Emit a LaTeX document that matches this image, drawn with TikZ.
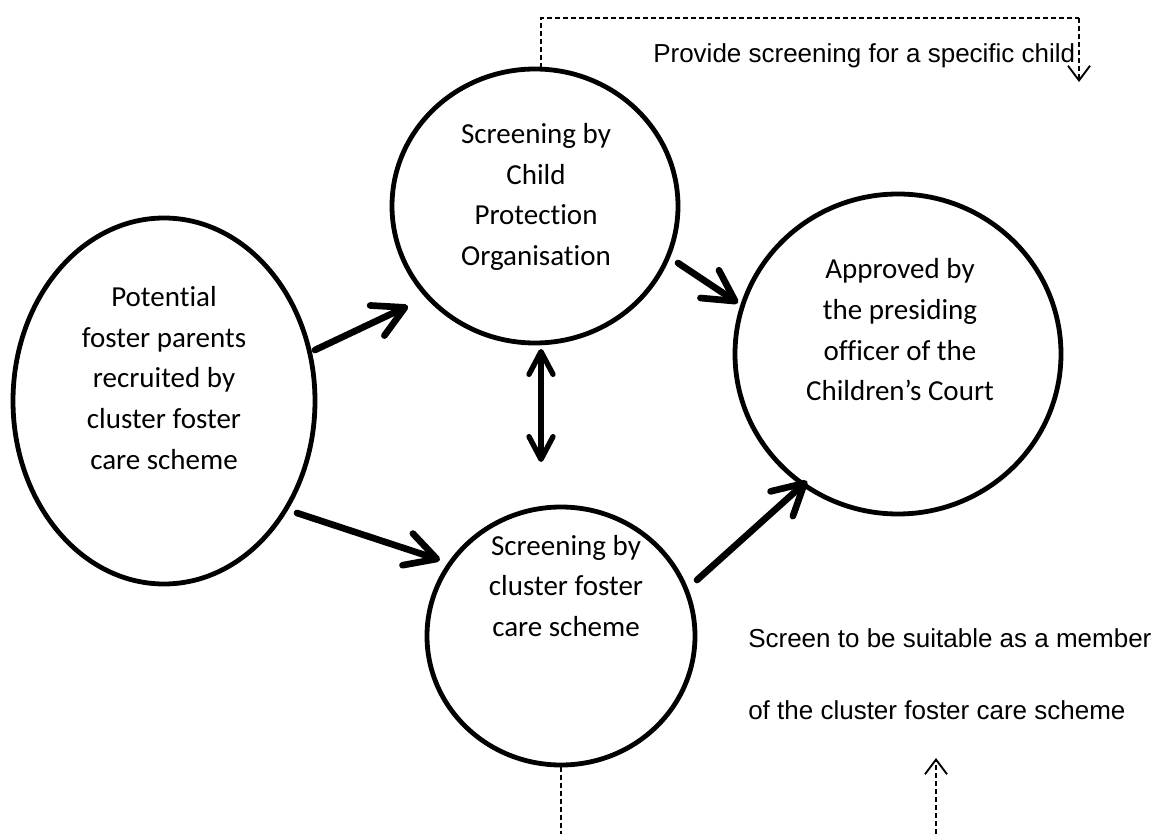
\documentclass[tikz,border=0pt]{standalone}
\usepackage{fontspec}
\setmainfont{Carlito}[Ligatures=NoCommon]
\newfontfamily\arialf{Liberation Sans}
\usetikzlibrary{arrows.meta,shapes.geometric}
\begin{document}
\begin{tikzpicture}[x=0.75pt,y=-0.75pt,
  shapebox/.style={draw,line width=3.6pt,ellipse,inner sep=0pt},
  bodytext/.style={align=center,inner sep=0pt,font=\fontsize{21.75}{30.5}\selectfont},
  notetext/.style={anchor=base west,inner sep=0pt,font=\arialf\fontsize{19.5}{24}\selectfont},
  bigarrow/.style={line width=5pt,line cap=round,-{Straight Barb[length=23pt,width=25pt,round]}},
  dblarrow/.style={line width=4pt,line cap=round,{Straight Barb[length=17pt,width=18pt,round]}-{Straight Barb[length=17pt,width=18pt,round]}},
  dashline/.style={line width=1.2pt,dash pattern=on 3.75pt off 2.25pt},
  dasharrow/.style={dashline,-{Straight Barb[length=11pt,width=16.5pt,line width=1.4pt]}}
]
\useasboundingbox (0,0) rectangle (1164,834);

% shapes
\node[shapebox,minimum width=226.5pt,minimum height=274.5pt] (pot) at (164,401) {};
\node[shapebox,minimum width=214.5pt,minimum height=205.5pt] (cpo) at (535,206) {};
\node[shapebox,minimum width=244.5pt,minimum height=240pt] (app) at (898,354) {};
\node[shapebox,minimum width=201pt,minimum height=193.5pt] (bot) at (561,636) {};

% texts in shapes
\node[bodytext] (potT) at (164,378) {Potential\\foster parents\\recruited by\\cluster foster\\care scheme};
\node[bodytext] (cpoT) at (536,197) {Screening by\\Child\\Protection\\Organisation};
\node[bodytext] (appT) at (900,330) {Approved by\\the presiding\\officer of the\\Children’s Court};
\node[bodytext] (botT) at (566,586) {Screening by\\cluster foster\\care scheme};

% notes
\node[notetext] (n1) at (653,63) {Provide screening for a specific child};
\node[notetext] (n2) at (748,647) {Screen to be suitable as a member};
\node[notetext] (n3) at (748,719) {of the cluster foster care scheme};

% bold arrows
\draw[bigarrow] ([shift={(151,-51)}]pot.center) -- ([shift={(-127,100)}]cpo.center);
\draw[bigarrow] ([shift={(133,112)}]pot.center) -- ([shift={(-121,-76)}]bot.center);
\draw[bigarrow] ([shift={(143,57)}]cpo.center) -- ([shift={(-160,-51)}]app.center);
\draw[bigarrow] ([shift={(136,-56)}]bot.center) -- ([shift={(-91,127)}]app.center);
\draw[dblarrow] ([shift={(6,143)}]cpo.center) -- ([shift={(-20,-174)}]bot.center);

% dashed connectors
\coordinate (tl) at (541,18);
\coordinate (tr) at (1079,18);
\coordinate (tend) at (1079,82);
\draw[dashline] ([shift={(6,-138)}]cpo.center) -- (tl) -- (tr);
\draw[dasharrow] (tr) -- (tend);

\coordinate (bl) at (561,834);
\draw[dashline] (bot.south) -- (bl);

\coordinate (br0) at (936,834);
\coordinate (br1) at (936,758);
\draw[dasharrow] (br0) -- (br1);
\end{tikzpicture}
\end{document}
